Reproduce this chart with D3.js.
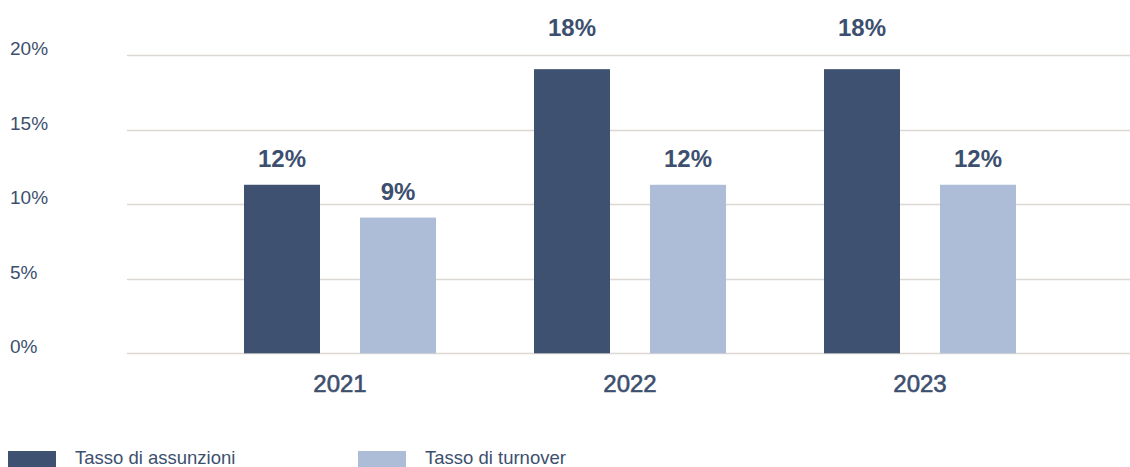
<!DOCTYPE html>
<html>
<head>
<meta charset="utf-8">
<script src="https://cdn.jsdelivr.net/npm/d3@7"></script>
<style>
  body { margin: 0; background: #fff; }
  svg text { font-family: "Liberation Sans", Arial, Helvetica, sans-serif; }
</style>
</head>
<body>
<div id="chart"></div>
<script>
// data
var years = ["2021", "2022", "2023"];
var seriesNames = ["Tasso di assunzioni", "Tasso di turnover"];
var assunzioni = [11.3, 19.05, 19.05];
var turnover = [9.1, 11.3, 11.3];
var assunzioniLabels = ["12%", "18%", "18%"];
var turnoverLabels = ["9%", "12%", "12%"];
var yTicks = [0, 5, 10, 15, 20];

var colors = ["#3f5170", "#adbdd7"];
var textColor = "#3d4f6e";
var width = 1130, height = 467;

var svg = d3.select("#chart").append("svg")
    .attr("width", width)
    .attr("height", height);

var y = d3.scaleLinear().domain([0, 20]).range([353.3, 55]);

var x0 = d3.scaleBand().domain(years).range([195, 1065]).padding(0);
var x1 = d3.scaleBand().domain([0, 1])
    .range([x0.bandwidth() / 2 - 96, x0.bandwidth() / 2 + 96])
    .paddingInner(40 / 116).paddingOuter(0);

// gridlines
svg.append("g").selectAll("line")
    .data(yTicks)
    .enter().append("line")
    .attr("x1", 127).attr("x2", width)
    .attr("y1", function(d) { return Math.round(y(d)) + 0.5; })
    .attr("y2", function(d) { return Math.round(y(d)) + 0.5; })
    .attr("stroke", "#dcd8d3")
    .attr("stroke-width", 1.5);

// y tick labels
svg.append("g").selectAll("text")
    .data(yTicks)
    .enter().append("text")
    .attr("x", 10)
    .attr("y", function(d) { return y(d); })
    .attr("font-size", 19)
    .attr("fill", textColor)
    .text(function(d) { return d + "%"; });

var rows = years.map(function(yr, i) {
  return {
    year: yr,
    vals: [
      { s: 0, v: assunzioni[i], label: assunzioniLabels[i] },
      { s: 1, v: turnover[i], label: turnoverLabels[i] }
    ]
  };
});

var groups = svg.append("g").selectAll("g")
    .data(rows)
    .enter().append("g")
    .attr("transform", function(d) { return "translate(" + x0(d.year) + ",0)"; });

groups.selectAll("rect")
    .data(function(d) { return d.vals; })
    .enter().append("rect")
    .attr("x", function(d) { return x1(d.s); })
    .attr("width", x1.bandwidth())
    .attr("y", function(d) { return y(d.v); })
    .attr("height", function(d) { return y(0) - y(d.v); })
    .attr("fill", function(d) { return colors[d.s]; });

// value labels, pushed above the top gridline when they would cross it
function labelY(v) {
  var b = y(v) - 18;
  var top = y(20);
  if (b - 18 < top + 2) b = top - 19;
  return b;
}

groups.selectAll("text.val")
    .data(function(d) { return d.vals; })
    .enter().append("text")
    .attr("class", "val")
    .attr("x", function(d) { return x1(d.s) + x1.bandwidth() / 2; })
    .attr("y", function(d) { return labelY(d.v); })
    .attr("text-anchor", "middle")
    .attr("font-size", 24)
    .attr("font-weight", "bold")
    .attr("fill", textColor)
    .text(function(d) { return d.label; });

groups.append("text")
    .attr("x", x0.bandwidth() / 2)
    .attr("y", 392)
    .attr("text-anchor", "middle")
    .attr("font-size", 24)
    .attr("fill", textColor)
    .attr("stroke", textColor)
    .attr("stroke-width", 0.6)
    .text(function(d) { return d.year; });

// legend
var legend = svg.append("g").selectAll("g")
    .data(seriesNames)
    .enter().append("g")
    .attr("transform", function(d, i) { return "translate(" + (8 + i * 350) + ",451)"; });

legend.append("rect")
    .attr("width", 48).attr("height", 18)
    .attr("fill", function(d, i) { return colors[i]; });

legend.append("text")
    .attr("x", 67)
    .attr("y", 13)
    .attr("font-size", 18.5)
    .attr("fill", textColor)
    .text(function(d) { return d; });
</script>
</body>
</html>
